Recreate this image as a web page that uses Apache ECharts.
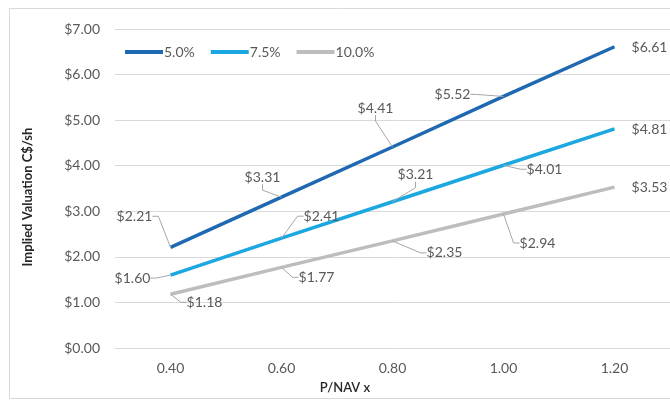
<!DOCTYPE html>
<html><head><meta charset="utf-8">
<script src="https://cdn.jsdelivr.net/npm/echarts@6/dist/echarts.min.js"></script>
<style>html,body{margin:0;padding:0;background:#fff}#c{width:670px;height:404px}</style>
</head><body><div id="c"></div>
<script>
const categories = ['0.40', '0.60', '0.80', '1.00', '1.20'];
const seriesNames = ['5.0%', '7.5%', '10.0%'];
const s5 = [2.21, 3.31, 4.41, 5.52, 6.61];
const s75 = [1.60, 2.41, 3.21, 4.01, 4.81];
const s10 = [1.18, 1.77, 2.35, 2.94, 3.53];
const yTicks = [0, 1, 2, 3, 4, 5, 6, 7];

// label offsets (label centre relative to point), layout only
const offsets = [
  [[-36,-31], [-19,-20], [-17,-39], [-51,-2], [35,1]],
  [[-38,3], [40,-22], [23,-27], [41,4], [35,1]],
  [[34,8], [35,10], [52,12], [34,29], [35,0]]
];
const colors = ['#1E69B2', '#1BA7E0', '#BDBDBD'];
const font = 'Lato, "Open Sans", sans-serif';

function mk(name, vals, idx) {
  return {
    name: name, type: 'line', data: vals.map((v, i) => ({
      value: v,
      labelLine: { show: i !== 4 }
    })),
    symbol: 'circle', symbolSize: 0.1, showSymbol: true,
    lineStyle: { width: 3.5, color: colors[idx] },
    itemStyle: { color: colors[idx] },
    label: {
      show: true, position: 'inside', color: '#595959', fontSize: 14, fontFamily: font,
      formatter: p => '$' + p.value.toFixed(2)
    },
    labelLine: { show: true, length2: 6, lineStyle: { color: '#A6A6A6', width: 1 } },
    labelLayout: p => ({ dx: offsets[idx][p.dataIndex][0], dy: offsets[idx][p.dataIndex][1] }),
    emphasis: { disabled: true },
    z: 3 - idx
  };
}

const chart = echarts.init(document.getElementById('c'));
chart.setOption({
  animation: false,
  color: colors,
  grid: { left: 115, top: 29, width: 556, height: 319, containLabel: false },
  legend: {
    left: 120, top: 40, icon: 'rect', itemWidth: 38, itemHeight: 4, itemGap: 16,
    textStyle: { color: '#595959', fontSize: 14, fontFamily: font, padding: [0, 0, 0, -4] },
    data: seriesNames
  },
  xAxis: {
    type: 'category', data: categories, boundaryGap: true,
    axisLine: { show: true, lineStyle: { color: '#D9D9D9' } },
    axisTick: { show: false },
    axisLabel: { color: '#595959', fontSize: 14, fontFamily: font, margin: 13 }
  },
  yAxis: {
    type: 'value', min: yTicks[0], max: yTicks[yTicks.length - 1], interval: 1,
    axisLine: { show: false }, axisTick: { show: false },
    splitLine: { lineStyle: { color: '#D9D9D9' } },
    axisLabel: { color: '#595959', fontSize: 14, fontFamily: font, margin: 15,
      formatter: v => '$' + v.toFixed(2) }
  },
  graphic: [
    { type: 'rect', shape: { x: 9.5, y: 8.5, width: 680, height: 390 }, style: { fill: 'none', stroke: '#D9D9D9', lineWidth: 1 }, silent: true },
    { type: 'text', x: 345, y: 388, style: { text: 'P/NAV x', fill: '#262626', font: '600 13px ' + font, align: 'center', verticalAlign: 'middle' } },
    { type: 'text', x: 28, y: 197, rotation: Math.PI / 2, style: { text: 'Implied Valuation C$/sh', fill: '#262626', font: 'bold 13px ' + font, align: 'center', verticalAlign: 'middle' } }
  ],
  series: [mk(seriesNames[0], s5, 0), mk(seriesNames[1], s75, 1), mk(seriesNames[2], s10, 2)]
});
</script></body></html>
